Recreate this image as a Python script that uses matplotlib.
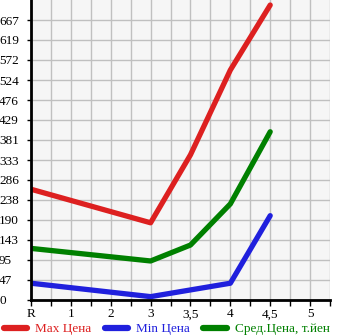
import matplotlib
matplotlib.use('Agg')
import matplotlib.pyplot as plt
import numpy as np

# данные
x_labels = ['R', '1', '2', '3', '3,5', '4', '4,5', '5']
y_labels = ['0', '47', '95', '143', '190', '238', '286', '333', '381',
            '429', '476', '524', '572', '619', '667']
pos = [0, 3, 4, 5, 6]
max_price = [264, 184, 346, 548, 703]
min_price = [40, 8, 24, 40, 201]
avg_price = [123, 93, 131, 229, 401]
names = ['Max Цена', 'Min Цена', 'Сред.Цена, т.йен']
colors = ['#dd2020', '#2020dd', '#008000']

step = 715 / 15

plt.rcParams['font.family'] = ['Liberation Serif', 'DejaVu Serif']
plt.rcParams['font.size'] = 9.5

fig = plt.figure(figsize=(3.45, 3.35), dpi=100)
ax = fig.add_axes([31 / 345, 35 / 335, 299 / 345, 300 / 335])
ax.set_facecolor('#f6f6f6')

for ys, c, n in zip([max_price, min_price, avg_price], colors, names):
    ax.plot(pos, ys, color=c, lw=3.8, solid_capstyle='round',
            solid_joinstyle='round', label=n)

ax.set_xlim(0, 7.5)
ax.set_ylim(0, 715)
ax.set_xticks(np.arange(len(x_labels)))
ax.set_xticklabels(x_labels)
ax.set_xticks(np.arange(0, 7.51, 0.5), minor=True)
ax.set_yticks(np.arange(len(y_labels)) * step)
ax.set_yticklabels(y_labels)

ax.grid(True, which='both', color='#c0c0c0', lw=1)
ax.set_axisbelow(True)
ax.tick_params(axis='x', which='both', length=4, width=1, color='black', pad=2)
ax.tick_params(axis='y', length=3, width=1, color='black', pad=20)
for lab in ax.get_yticklabels():
    lab.set_ha('left')

for s in ['top', 'right']:
    ax.spines[s].set_visible(False)
ax.spines['left'].set_linewidth(2)
ax.spines['bottom'].set_linewidth(2)

leg = fig.legend(loc='lower left', bbox_to_anchor=(-0.005, -0.017), ncol=3,
                 frameon=False, handlelength=1.8, handletextpad=0.6,
                 columnspacing=1.0, borderaxespad=0)
for h in leg.legend_handles:
    h.set_linewidth(4.5)
for t, c in zip(leg.get_texts(), colors):
    t.set_color(c)

fig.savefig('out.png', dpi=100)
